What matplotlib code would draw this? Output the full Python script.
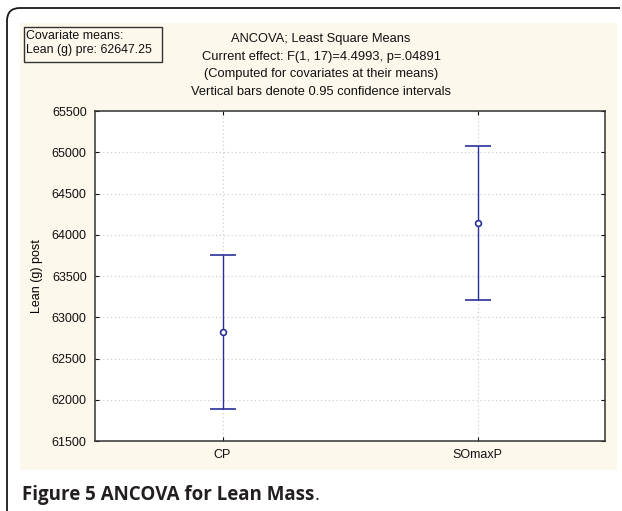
import matplotlib
matplotlib.use('Agg')
import matplotlib.pyplot as plt
import matplotlib.patches as mpatches
from matplotlib.path import Path

# ── Data ───────────────────────────────────────────────────────────────────────
groups = ['CP', 'SOmaxP']
means = [62825, 64145]
ci_low = [61890, 63215]
ci_high = [63760, 65070]
yticks = [61500, 62000, 62500, 63000, 63500, 64000, 64500, 65000, 65500]

title_lines = ['ANCOVA; Least Square Means',
               'Current effect: F(1, 17)=4.4993, p=.04891',
               '(Computed for covariates at their means)',
               'Vertical bars denote 0.95 confidence intervals']
cov_lines = ['Covariate means:', 'Lean (g) pre: 62647.25']

W, H = 622, 511
plt.rcParams['font.family'] = ['Liberation Sans', 'DejaVu Sans']

fig = plt.figure(figsize=(W / 100, H / 100), dpi=100)
fig.patch.set_facecolor('white')

# ── Background layer in pixel coords ───────────────────────────────────────────
bg = fig.add_axes([0, 0, 1, 1], zorder=0)
bg.set_xlim(0, W)
bg.set_ylim(H, 0)
bg.axis('off')

cream = '#FCF8EC'
bg.add_patch(mpatches.Rectangle((20, 23), 597, 447, facecolor=cream,
                                edgecolor='none'))

# outer frame: top line + rounded corner + left line
verts = [(620, 8), (20, 8), (7, 8), (7, 21), (7, 530)]
codes = [Path.MOVETO, Path.LINETO, Path.CURVE3, Path.CURVE3, Path.LINETO]
bg.add_patch(mpatches.PathPatch(Path(verts, codes), facecolor='none',
                                edgecolor='#1a1a1a', lw=1.3))

# covariate box
bg.add_patch(mpatches.Rectangle((24, 27), 138, 35, facecolor=cream,
                                edgecolor='#333333', lw=1.0))
for i, line in enumerate(cov_lines):
    bg.text(26, 36 + i * 14, line, fontsize=8.9, ha='left', va='center',
            color='#111')

# title block
for i, line in enumerate(title_lines):
    bg.text(321, 39 + i * 17.7, line, fontsize=9.3, ha='center',
            va='center', color='#111')

# caption (bold text, plain full stop on the same baseline)
cap = bg.text(22, 500, 'Figure 5 ANCOVA for Lean Mass', fontsize=13.5,
              fontweight='bold', family='Open Sans', ha='left',
              va='baseline', color='#231f20')
fig.canvas.draw()
bb = cap.get_window_extent()
x_end = bg.transData.inverted().transform((bb.x1, bb.y0))[0]
bg.text(x_end + 0.5, 500, '.', fontsize=13.5, family='Open Sans',
        ha='left', va='baseline', color='#231f20')

# ── Main plot ──────────────────────────────────────────────────────────────────
ax = fig.add_axes([95 / W, 1 - 441 / H, 510 / W, 330 / H], zorder=2)
ax.set_facecolor('white')

x = list(range(len(groups)))
yerr = [[m - lo for m, lo in zip(means, ci_low)],
        [hi - m for m, hi in zip(means, ci_high)]]
ax.errorbar(x, means, yerr=yerr, fmt='o', color='#2b2f9a', ecolor='#2b2f9a',
            elinewidth=1.0, capsize=9.5, capthick=1.0, markersize=4.2,
            markerfacecolor='white', markeredgewidth=1.2, zorder=3)

ax.set_xlim(-0.5, 1.5)
ax.set_ylim(61500, 65500)
ax.set_xticks(x)
ax.set_xticklabels(groups)
ax.set_yticks(yticks)
ax.set_yticklabels([str(v) for v in yticks])
ax.set_ylabel('Lean (g) post', fontsize=9, labelpad=6)

ax.grid(True, color='#c8c8c8', linestyle=(0, (1, 2.5)), lw=0.8)
ax.tick_params(direction='in', length=3, width=0.8, top=True, right=True,
               labelsize=9, colors='#111', pad=6)
for s in ax.spines.values():
    s.set_color('#333333')
    s.set_linewidth(1.1)

fig.savefig('out.png', dpi=100, facecolor='white')
